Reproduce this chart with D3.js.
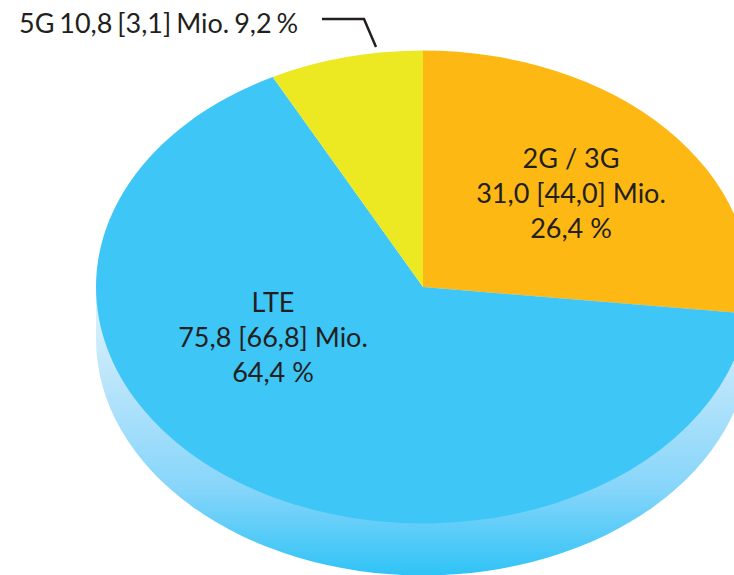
<!DOCTYPE html>
<html>
<head>
<meta charset="utf-8">
<script src="https://cdn.jsdelivr.net/npm/d3@7"></script>
<style>
  html, body { margin: 0; padding: 0; background: #fff; overflow: hidden; }
  text { font-family: Lato, "Open Sans", sans-serif; fill: #231f20; }
</style>
</head>
<body>
<script>
// Data. The printed figures are in the labels; the drawn slices in the
// picture are not quite to scale, so the shares are read from the drawing.
const categories = ['2G / 3G', 'LTE', '5G'];
const drawnShares = [26.8, 65.6, 7.6];
const sliceColors = ['#fdb813', '#3ec6f7', '#ece821'];
const labelLines = [
  ['2G / 3G', '31,0 [44,0] Mio.', '26,4 %'],
  ['LTE', '75,8 [66,8] Mio.', '64,4 %']
];
const calloutText = '5G 10,8 [3,1] Mio. 9,2 %';

const width = 734, height = 575;
const cx = 423, cy = 287, rx = 327, ry = 236.5, depth = 52;

const svg = d3.select('body').append('svg')
  .attr('width', width)
  .attr('height', height)
  .style('display', 'block');

// Gradient for the rim of the pie
const grad = svg.append('defs').append('linearGradient')
  .attr('id', 'rim')
  .attr('gradientUnits', 'userSpaceOnUse')
  .attr('x1', 0).attr('x2', 0)
  .attr('y1', cy).attr('y2', cy + ry + depth);
grad.append('stop').attr('offset', 0).attr('stop-color', '#e4f5fd');
grad.append('stop').attr('offset', 0.3).attr('stop-color', '#bde6fb');
grad.append('stop').attr('offset', 0.7).attr('stop-color', '#86d5fa');
grad.append('stop').attr('offset', 1).attr('stop-color', '#2fc3f6');

// Rim: half ellipse pushed down by depth, closed against the top ellipse
const rimPath = `M${cx - rx},${cy} L${cx - rx},${cy + depth}`
  + ` A${rx},${ry} 0 0 0 ${cx + rx},${cy + depth} L${cx + rx},${cy} Z`;
svg.append('path')
  .attr('d', rimPath)
  .attr('fill', 'url(#rim)');

// Top face, a d3 pie squashed into an ellipse
const pie = d3.pie().sort(null).value(d => d);
const arc = d3.arc().innerRadius(0).outerRadius(rx);

svg.append('g')
  .attr('transform', `translate(${cx},${cy}) scale(1,${ry / rx})`)
  .selectAll('path')
  .data(pie(drawnShares))
  .join('path')
  .attr('d', arc)
  .attr('data-name', (d, i) => categories[i])
  .attr('fill', (d, i) => sliceColors[i]);

// Labels inside the slices
const labelPos = [[571, 168], [273, 312]];
labelLines.forEach((lines, i) => {
  svg.append('text')
    .attr('text-anchor', 'middle')
    .attr('font-size', 27)
    .selectAll('tspan')
    .data(lines)
    .join('tspan')
    .attr('x', labelPos[i][0])
    .attr('y', (d, j) => labelPos[i][1] + j * 35)
    .text(d => d);
});

// 5G callout outside the pie
svg.append('text')
  .attr('x', 19)
  .attr('y', 33)
  .attr('font-size', 27)
  .attr('word-spacing', -2)
  .text(calloutText);

svg.append('path')
  .attr('d', d3.line()([[322, 19], [364, 19], [376, 47]]))
  .attr('fill', 'none')
  .attr('stroke', '#231f20')
  .attr('stroke-width', 2.5);
</script>
</body>
</html>
